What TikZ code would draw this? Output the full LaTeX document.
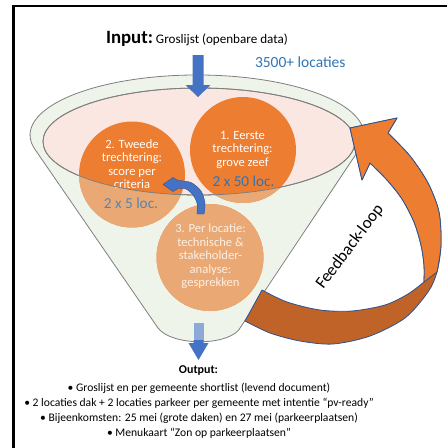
\documentclass[tikz,border=0pt]{standalone}
\usepackage{fontspec}
\setmainfont{Carlito}
\definecolor{fillorange}{HTML}{ED7D31}
\definecolor{paleorange}{HTML}{EAA974}
\definecolor{backorange}{HTML}{BF6329}
\definecolor{arrowblue}{HTML}{4472C4}
\definecolor{palearrowblue}{HTML}{8DA9D8}
\definecolor{edgeblue}{HTML}{2F528F}
\definecolor{locblue}{HTML}{2E75B6}
\definecolor{palelocblue}{HTML}{4F86BC}
\definecolor{paletext}{HTML}{FBEFE6}
\definecolor{rimgreen}{HTML}{EEF4EA}
\definecolor{bowlpink}{HTML}{FBE7E2}
\definecolor{rimgray}{HTML}{7F7F7F}
\begin{document}
\begin{tikzpicture}[x=1pt,y=-1pt,
  every node/.style={inner sep=0pt, outer sep=0pt},
  disc/.style={circle, fill=fillorange, minimum size=#1, inner sep=0pt},
  disctext/.style={align=center, text=white, font=\fontsize{12.6}{13.5}\selectfont},
  loclabel/.style={text=locblue, font=\fontsize{15.2}{17}\selectfont},
  blockarrow/.style={fill=arrowblue},
  ribbonedge/.style={draw=edgeblue, line width=0.8pt, line join=round},
  funneledge/.style={draw=rimgray, line width=0.8pt}
]
\useasboundingbox (0,0) rectangle (447,448);

% frame
\draw[line width=2.3pt] (447,6) -- (13.6,6) -- (13.6,448);

% funnel body and bowl
\path[fill=rimgreen, funneledge]
  (35,149.4) arc[start angle=166.1, end angle=373.5, x radius=167, y radius=60]
  -- (238.7,330) .. controls (225,346) and (172,346) .. (158,328) -- cycle;
\path[fill=bowlpink, funneledge] (199,141.5) ellipse[x radius=156, y radius=53.5];

% output arrow: shaft seen through the funnel, head below it
\coordinate (outTop) at (198.5,323);
\coordinate (outTip) at (198.5,360);
\fill[palearrowblue] (193.5,323) rectangle (203.5,341);
\fill[blockarrow] (193.5,340) -- (203.5,340) -- (203.5,343) -- (208.5,343)
  -- (outTip) -- (188.5,343) -- (193.5,343) -- cycle;

% the three filtering steps (inside the bowl)
\node[disc=106pt] (c1) at (243,150) {};
\node[disc=106pt] (c2) at (132,174.5) {};
\node[disc=107pt] (c3) at (210,257.5) {};

\node[disctext] (t1) at (242.5,150) {1. Eerste\\trechtering:\\grove zeef};
\node[loclabel] (l1) at (243.5,181) {2 x 50 loc.};
\node[disctext] (t2) at (132,164) {2. Tweede\\trechtering:\\score per\\criteria};
\node[loclabel] (l2) at (131,203) {2 x 5 loc.};
\node[disctext] (t3) at (210.5,256.5) {3. Per locatie:\\technische \&\\stakeholder-\\analyse:\\gesprekken};

% the same steps seen through the front of the funnel cone
\begin{scope}[even odd rule]
  \clip (0,0) rectangle (447,448)
    (199,141.5) ellipse[x radius=156, y radius=53.5];
  \fill[paleorange] (c1.center) circle[radius=53];
  \fill[paleorange] (c2.center) circle[radius=53];
  \fill[paleorange] (c3.center) circle[radius=53.5];
  \node[disctext, text=paletext] at (t1) {1. Eerste\\trechtering:\\grove zeef};
  \node[loclabel, text=palelocblue] at (l1) {2 x 50 loc.};
  \node[disctext, text=paletext] at (t2) {2. Tweede\\trechtering:\\score per\\criteria};
  \node[loclabel, text=palelocblue] at (l2) {2 x 5 loc.};
  \node[disctext, text=paletext] at (t3) {3. Per locatie:\\technische \&\\stakeholder-\\analyse:\\gesprekken};
\end{scope}
\draw[funneledge] (199,141.5) ellipse[x radius=156, y radius=53.5];

% curved arrow from step 3 back to step 2
\coordinate (backTail) at (200.5,214);
\coordinate (backTip) at (163,184.5);
\path[fill=arrowblue, draw=edgeblue, line width=0.4pt, line join=round]
  plot[smooth] coordinates {(204,214) (205,203) (201,191) (191,182.5) (178,180.5)}
  -- (173,177.5) -- (backTip) -- (173,191.5) -- (178,188.5)
  -- plot[smooth] coordinates {(178,188.5) (186,189) (193,195) (197,203) (197,214)}
  -- cycle;

% input arrow
\coordinate (inTop) at (198,55);
\coordinate (inTip) at (198,97);
\fill[blockarrow] (192.5,55) -- (203.5,55) -- (203.5,85) -- (210.5,85)
  -- (inTip) -- (185.5,85) -- (192.5,85) -- cycle;

% feedback ribbon: back face
\path[fill=backorange, ribbonedge]
  plot[smooth] coordinates {(262,290) (287,302) (320,310) (352,311) (385,305) (408,294) (424,282)}
  -- plot[smooth] coordinates {(424,282) (424,265) (421,245) (414,222) (402,199) (387,180) (370,163)}
  -- (362,180) -- (350,128) -- (397,118) -- (388,133)
  -- plot[smooth] coordinates {(388,133) (410,156) (428,183) (439,212) (441,245) (437,272) (428,292) (405,318) (370,336) (333,344) (300,341) (270,333) (245,321)}
  -- cycle;
% feedback ribbon: front face with head
\path[fill=fillorange, ribbonedge]
  plot[smooth] coordinates {(424,282) (424,265) (421,245) (414,222) (402,199) (387,180) (370,163)}
  -- (362,180) -- (350,128) -- (397,118) -- (388,133)
  -- plot[smooth] coordinates {(388,133) (410,156) (428,183) (439,212) (441,245) (437,272)}
  -- cycle;
\node[rotate=53, font=\fontsize{17}{20}\selectfont] (fb) at (350,247) {Feedback-loop};

% texts
\node[anchor=base west] (title) at (106,43)
  {{\bfseries\fontsize{18.8}{20}\selectfont Input:} {\fontsize{13.1}{15}\selectfont Groslijst (openbare data)}};
\node[anchor=base west, text=locblue, font=\fontsize{15.5}{17}\selectfont] (count) at (255,67) {3500+ locaties};

\node[font=\bfseries\fontsize{12}{14}\selectfont] (outhead) at (198.5,371) {Output:};
\node[align=center, font=\fontsize{11.6}{15}\selectfont] (outlist) at (199,410.5)
  {• Groslijst en per gemeente shortlist (levend document)\\
   • 2 locaties dak + 2 locaties parkeer per gemeente met intentie “pv-ready”\\
   • Bijeenkomsten: 25 mei (grote daken) en 27 mei (parkeerplaatsen)\\
   • Menukaart “Zon op parkeerplaatsen”};
\end{tikzpicture}
\end{document}
